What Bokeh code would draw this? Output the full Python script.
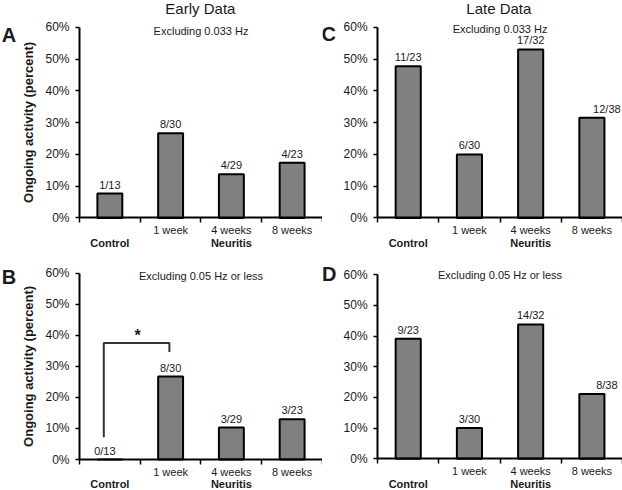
import numpy as np
from bokeh.plotting import figure
from bokeh.models import (Range1d, FixedTicker, PrintfTickFormatter,
                          Label, LabelSet, ColumnDataSource)
from bokeh.core.properties import value
from bokeh.layouts import row, column
from bokeh.embed import file_html
from bokeh.resources import INLINE

# ---------------- data ----------------
categories = ["Control", "1 week", "4 weeks", "8 weeks"]
row1_labels = ["", "1 week", "4 weeks", "8 weeks"]
groups = ["Control", "Neuritis", "Neuritis", "Neuritis"]
y_ticks = [0, 10, 20, 30, 40, 50, 60]

early_a = [7.7, 26.7, 13.8, 17.4]
early_a_n = ["1/13", "8/30", "4/29", "4/23"]
early_b = [0.0, 26.7, 10.3, 13.0]
early_b_n = ["0/13", "8/30", "3/29", "3/23"]
late_c = [47.8, 20.0, 53.1, 31.6]
late_c_n = ["11/23", "6/30", "17/32", "12/38"]
late_d = [39.1, 10.0, 43.8, 21.1]
late_d_n = ["9/23", "3/30", "14/32", "8/38"]

# significance bracket (panel B): Control vs 1 week
sig_x = [0.4, 0.4, 1.48, 1.48]
sig_y = [7.2, 37.5, 37.5, 34.6]
sig_star = (0.955, 40.0)

# count-label pixel nudges
a_dx = [0, 0, 0, 0]
b_dx = [-5, 0, 0, 0]
c_dx = [0, 0, 0, 15]
d_dx = [0, 0, 0, 15]

FONT = "Liberation Sans"
TXT = "#1a1a1a"

centers = np.arange(len(categories)) + 0.5
bounds = [float(b) for b in np.arange(len(categories) + 1)]
uniq = list(dict.fromkeys(groups))
group_centers = [float(np.mean([centers[i] for i, g in enumerate(groups) if g == u])) for u in uniq]


def lab(p, x, y, text, size="11px", bold=False, angle=0.0):
    p.add_layout(Label(x=x, y=y, text=text, text_align="center", text_baseline="middle",
                       text_font=FONT, text_font_size=size, angle=angle,
                       text_font_style="bold" if bold else "normal", text_color=TXT))


def panel(values, counts, dx, width, height, xr, yr, letter, letter_xy, subtitle, sub_y,
          group_y, title=None, title_xy=None, ylabel_xy=None):
    p = figure(width=width, height=height, x_range=Range1d(*xr), y_range=Range1d(*yr),
               output_backend="svg", toolbar_location=None, title=None,
               min_border_left=0, min_border_right=0, min_border_top=0, min_border_bottom=0)
    p.outline_line_color = None
    p.xgrid.visible = False
    p.ygrid.visible = False
    p.background_fill_color = "white"
    p.border_fill_color = "white"

    # y axis (fixed at x = 0)
    ya = p.yaxis[0]
    ya.fixed_location = 0
    ya.bounds = (0, 60)
    ya.ticker = FixedTicker(ticks=y_ticks)
    ya.formatter = PrintfTickFormatter(format="%d%%")
    ya.major_tick_out = 4
    ya.major_tick_in = 0
    ya.minor_tick_line_color = None
    ya.axis_line_width = 2
    ya.axis_line_color = "black"
    ya.major_tick_line_width = 1.5
    ya.major_tick_line_color = "black"
    ya.major_label_text_font = FONT
    ya.major_label_text_font_size = "12px"
    ya.major_label_text_color = TXT
    ya.major_label_standoff = 6

    # x axis (fixed at y = 0): boundary ticks + category labels
    xa = p.xaxis[0]
    xa.fixed_location = 0
    xa.bounds = (0, len(categories))
    shown = [float(c) for c, l in zip(centers, row1_labels) if l]
    xa.ticker = FixedTicker(ticks=shown, minor_ticks=bounds)
    xa.major_label_overrides = {float(c): l for c, l in zip(centers, row1_labels) if l}
    xa.major_tick_line_color = None
    xa.major_tick_out = 0
    xa.major_tick_in = 0
    xa.minor_tick_out = 5
    xa.minor_tick_in = 0
    xa.minor_tick_line_width = 1.5
    xa.minor_tick_line_color = "black"
    xa.axis_line_width = 2
    xa.axis_line_color = "black"
    xa.major_label_standoff = 1
    xa.major_label_text_font = FONT
    xa.major_label_text_font_size = "11px"
    xa.major_label_text_color = TXT

    src = ColumnDataSource(dict(x=list(centers), top=values, text=counts, dx=dx))
    p.vbar(x="x", top="top", width=0.41, source=src, fill_color="#808080",
           line_color="black", line_width=2)
    p.add_layout(LabelSet(x="x", y="top", text="text", x_offset="dx", y_offset=3,
                          source=src, text_align="center", text_baseline="bottom",
                          text_font=value(FONT), text_font_size=value("11px"),
                          text_color=TXT))

    for gc, g in zip(group_centers, uniq):
        lab(p, gc, group_y, g, bold=True)
    lab(p, len(categories) / 2, sub_y, subtitle)
    lab(p, letter_xy[0], letter_xy[1], letter, size="20px", bold=True)
    if title:
        lab(p, title_xy[0], title_xy[1], title, size="15px")
    if ylabel_xy:
        lab(p, ylabel_xy[0], ylabel_xy[1], "Ongoing activity (percent)", size="13px",
            bold=True, angle=np.pi / 2)
    return p


pa = panel(early_a, early_a_n, a_dx, 322, 258, (-1.30, 4.0), (-12.76, 68.5),
           "A", (-1.16, 57.7), "Excluding 0.033 Hz", 59.0, -8.0,
           title="Early Data", title_xy=(1.99, 66.0), ylabel_xy=(-0.84, 30.1))
pc = panel(late_c, late_c_n, c_dx, 300, 258, (-0.90, 4.0), (-12.76, 68.5),
           "C", (-0.80, 57.9), "Excluding 0.033 Hz", 59.4, -8.0,
           title="Late Data", title_xy=(1.98, 66.0))
pb = panel(early_b, early_b_n, b_dx, 322, 232, (-1.30, 4.0), (-9.98, 64.73),
           "B", (-1.16, 58.8), "Excluding 0.05 Hz or less", 59.0, -8.0,
           ylabel_xy=(-0.84, 30.0))
pd_ = panel(late_d, late_d_n, d_dx, 300, 232, (-0.90, 4.0), (-10.34, 65.3),
            "D", (-0.79, 60.3), "Excluding 0.05 Hz or less", 60.0, -8.3)

pb.line(sig_x, sig_y, line_color="#333333", line_width=2)
lab(pb, sig_star[0], sig_star[1], "*", size="16px", bold=True)

layout = column(row(pa, pc), row(pb, pd_))
open("out.html", "w").write(file_html(layout, INLINE))
